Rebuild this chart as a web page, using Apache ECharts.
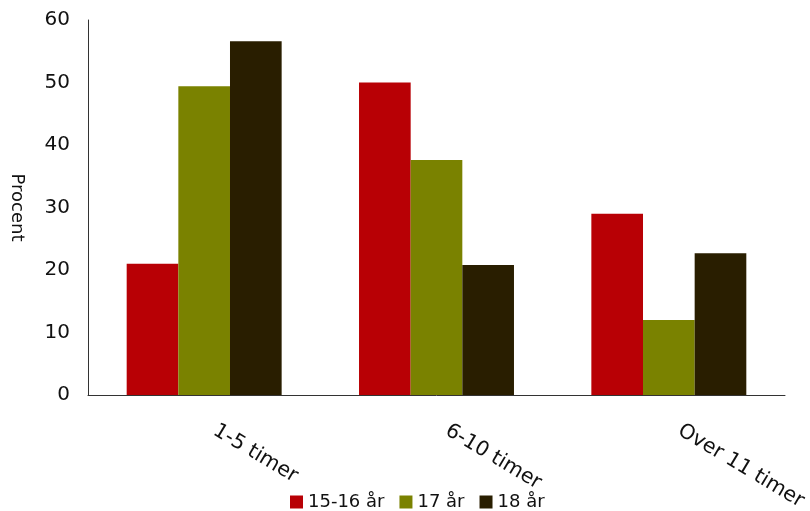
<!DOCTYPE html>
<html>
<head>
<meta charset="utf-8">
<script src="https://cdn.jsdelivr.net/npm/echarts@6/dist/echarts.min.js"></script>
<style>html,body{margin:0;padding:0;background:#fff}#c{width:810px;height:511px}</style>
</head>
<body>
<div id="c"></div>
<script>
const categories = ['1-5 timer', '6-10 timer', 'Over 11 timer'];
const seriesNames = ['15-16 år', '17 år', '18 år'];
const s1516 = [21, 50, 29];
const s17 = [49.4, 37.6, 12];
const s18 = [56.6, 20.8, 22.7];
const yTicks = [0, 10, 20, 30, 40, 50, 60];
const colors = ['#B80005', '#7A8200', '#291E00'];

const chart = echarts.init(document.getElementById('c'));
const font = 'DejaVu Sans';
chart.setOption({
  animation: false,
  color: colors,
  grid: { left: 88, right: 25, top: 20, bottom: 116, containLabel: false, outerBoundsMode: 'none' },
  legend: {
    bottom: -5,
    left: 285,
    itemWidth: 13, itemHeight: 13, itemGap: 15,
    icon: 'rect',
    textStyle: { fontFamily: font, fontSize: 18, color: '#111' },
    data: seriesNames
  },
  xAxis: {
    type: 'category',
    data: categories,
    axisLine: { lineStyle: { color: '#333', width: 1 } },
    axisTick: { show: false },
    axisLabel: { rotate: -31, align: 'left', verticalAlign: 'bottom', margin: 40, padding: [0, 0, 0, 6], fontFamily: font, fontSize: 20.5, color: '#111' }
  },
  yAxis: {
    type: 'value',
    min: yTicks[0], max: yTicks[yTicks.length - 1], interval: 10,
    name: 'Procent',
    nameLocation: 'middle',
    nameGap: 62,
    nameRotate: -90,
    nameTextStyle: { fontFamily: font, fontSize: 18, color: '#111' },
    axisLine: { show: true, lineStyle: { color: '#333', width: 1 } },
    axisTick: { show: false },
    splitLine: { show: false },
    axisLabel: { margin: 18, fontFamily: font, fontSize: 20, color: '#111' }
  },
  series: [
    { name: seriesNames[0], type: 'bar', data: s1516, barGap: '0%', barCategoryGap: '33.3%' },
    { name: seriesNames[1], type: 'bar', data: s17, barGap: '0%', barCategoryGap: '33.3%' },
    { name: seriesNames[2], type: 'bar', data: s18, barGap: '0%', barCategoryGap: '33.3%' }
  ]
});
</script>
</body>
</html>
